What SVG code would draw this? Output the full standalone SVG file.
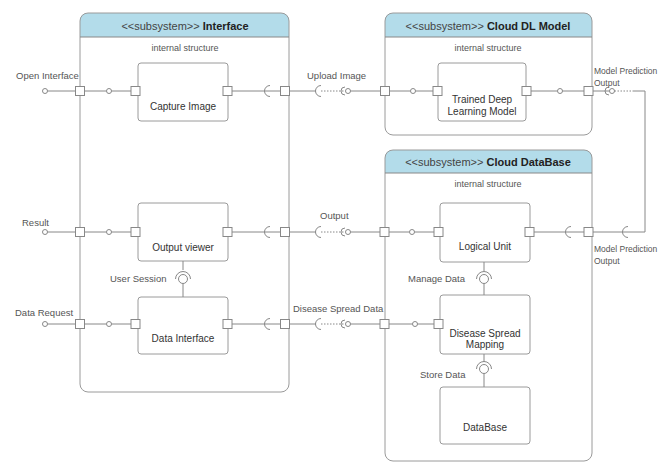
<svg xmlns="http://www.w3.org/2000/svg" width="662" height="464" viewBox="0 0 662 464">
<style>
text{font-family:"Liberation Sans",Arial,sans-serif;fill:#555;font-size:9.5px}
.title{font-size:11px;fill:#444;text-anchor:middle}
.title tspan.b{font-weight:bold;fill:#222}
.sub{text-anchor:middle;font-size:9px}
.ctr{text-anchor:middle;font-size:10px;fill:#333}
.sm{font-size:8.5px}
.frame{fill:none;stroke:#9a9a9a;stroke-width:1}
.hdr{fill:#b3dcea}
.box{fill:#fff;stroke:#9a9a9a;stroke-width:1}
.port{fill:#fff;stroke:#888;stroke-width:1}
.ln{fill:none;stroke:#888;stroke-width:1}
.dot{fill:none;stroke:#888;stroke-width:1;stroke-dasharray:1.5 1.5}
.ball{fill:#fff;stroke:#888;stroke-width:1}
</style>
<rect width="662" height="464" fill="#fff"/>

<g id="interface">
<path class="hdr" d="M80,37 V21 Q80,13 88,13 H281 Q289,13 289,21 V37 Z"/>
<rect class="frame" x="80" y="13" width="209" height="379" rx="8"/>
<line class="ln" x1="80" y1="37" x2="289" y2="37"/>
<text class="title" x="185" y="30">&lt;&lt;subsystem&gt;&gt; <tspan class="b">Interface</tspan></text>
<text class="sub" x="185" y="51">internal structure</text>
</g>

<g id="cloud-dl-model">
<path class="hdr" d="M385,37 V21 Q385,13 393,13 H584 Q592,13 592,21 V37 Z"/>
<rect class="frame" x="385" y="13" width="207" height="122" rx="8"/>
<line class="ln" x1="385" y1="37" x2="592" y2="37"/>
<text class="title" x="488" y="30">&lt;&lt;subsystem&gt;&gt; <tspan class="b">Cloud DL Model</tspan></text>
<text class="sub" x="488" y="51">internal structure</text>
</g>

<g id="cloud-database">
<path class="hdr" d="M385,173 V158 Q385,150 393,150 H584 Q592,150 592,158 V173 Z"/>
<rect class="frame" x="385" y="150" width="207" height="311" rx="8"/>
<line class="ln" x1="385" y1="173" x2="592" y2="173"/>
<text class="title" x="488" y="166">&lt;&lt;subsystem&gt;&gt; <tspan class="b">Cloud DataBase</tspan></text>
<text class="sub" x="488" y="187">internal structure</text>
</g>

<g id="capture-image">
<rect class="box" x="138" y="63" width="90" height="58" rx="3"/>
<text class="ctr" x="183" y="110">Capture Image</text>
</g>
<g id="output-viewer">
<rect class="box" x="138" y="203" width="90" height="58" rx="3"/>
<text class="ctr" x="183" y="251">Output viewer</text>
</g>
<g id="data-interface">
<rect class="box" x="138" y="297" width="90" height="57" rx="3"/>
<text class="ctr" x="183" y="342">Data Interface</text>
</g>
<g id="trained-model">
<rect class="box" x="438" y="63" width="88" height="58" rx="3"/>
<text class="ctr" x="482" y="103">Trained Deep</text>
<text class="ctr" x="482" y="115">Learning Model</text>
</g>
<g id="logical-unit">
<rect class="box" x="440" y="203" width="90" height="59" rx="3"/>
<text class="ctr" x="485" y="250">Logical Unit</text>
</g>
<g id="disease-spread-mapping">
<rect class="box" x="440" y="295" width="90" height="59" rx="3"/>
<text class="ctr" x="485" y="337">Disease Spread</text>
<text class="ctr" x="485" y="348">Mapping</text>
</g>
<g id="database">
<rect class="box" x="440" y="387" width="90" height="57" rx="3"/>
<text class="ctr" x="485" y="431">DataBase</text>
</g>

<g id="connectors">
<circle class="ball" cx="45" cy="91" r="2.5"/>
<line class="ln" x1="47.5" y1="91" x2="76" y2="91"/>
<line class="ln" x1="85" y1="91" x2="106.5" y2="91"/>
<circle class="ball" cx="109" cy="91" r="2.5"/>
<line class="ln" x1="111.5" y1="91" x2="131" y2="91"/>
<line class="ln" x1="232" y1="91" x2="281" y2="91"/>
<path class="ln" d="M270,85.5 A5.5,5.5 0 0 0 270,96.5"/>
<line class="ln" x1="290" y1="91" x2="316" y2="91"/>
<path class="ln" d="M321,85.5 A5.5,5.5 0 0 0 321,96.5"/>
<line class="dot" x1="321" y1="91" x2="344" y2="91"/>
<circle class="ball" cx="348" cy="91" r="2.5"/>
<path class="ln" d="M345,87 A4,4 0 0 0 345,95"/>
<line class="ln" x1="350.5" y1="91" x2="381" y2="91"/>
<line class="ln" x1="390" y1="91" x2="410.5" y2="91"/>
<circle class="ball" cx="413" cy="91" r="2.5"/>
<line class="ln" x1="415.5" y1="91" x2="433" y2="91"/>
<line class="ln" x1="531" y1="91" x2="557.5" y2="91"/>
<circle class="ball" cx="560" cy="91" r="2.5"/>
<line class="ln" x1="562.5" y1="91" x2="584" y2="91"/>
<line class="ln" x1="593" y1="91" x2="609.5" y2="91"/>
<circle class="ball" cx="612" cy="91" r="2.5"/>
<path class="ln" d="M609,87 A4,4 0 0 0 609,95"/>
<line class="dot" x1="614.5" y1="91" x2="633" y2="91"/>
<polyline class="ln" points="633,91 645,91 645,232 628,232"/>
<path class="ln" d="M628,226.5 A5.5,5.5 0 0 0 628,237.5"/>
<line class="ln" x1="628" y1="232" x2="593" y2="232"/>
<line class="ln" x1="584" y1="232" x2="534" y2="232"/>
<path class="ln" d="M571,226.5 A5.5,5.5 0 0 0 571,237.5"/>

<circle class="ball" cx="45" cy="232" r="2.5"/>
<line class="ln" x1="47.5" y1="232" x2="76" y2="232"/>
<line class="ln" x1="85" y1="232" x2="106.5" y2="232"/>
<circle class="ball" cx="109" cy="232" r="2.5"/>
<line class="ln" x1="111.5" y1="232" x2="131" y2="232"/>
<line class="ln" x1="232" y1="232" x2="281" y2="232"/>
<path class="ln" d="M270,226.5 A5.5,5.5 0 0 0 270,237.5"/>
<line class="ln" x1="290" y1="232" x2="316" y2="232"/>
<path class="ln" d="M321,226.5 A5.5,5.5 0 0 0 321,237.5"/>
<line class="dot" x1="321" y1="232" x2="344" y2="232"/>
<circle class="ball" cx="348" cy="232" r="2.5"/>
<path class="ln" d="M345,228 A4,4 0 0 0 345,236"/>
<line class="ln" x1="350.5" y1="232" x2="380" y2="232"/>
<line class="ln" x1="389" y1="232" x2="409.5" y2="232"/>
<circle class="ball" cx="412" cy="232" r="2.5"/>
<line class="ln" x1="414.5" y1="232" x2="434" y2="232"/>

<circle class="ball" cx="45" cy="324" r="2.5"/>
<line class="ln" x1="47.5" y1="324" x2="76" y2="324"/>
<line class="ln" x1="85" y1="324" x2="106.5" y2="324"/>
<circle class="ball" cx="109" cy="324" r="2.5"/>
<line class="ln" x1="111.5" y1="324" x2="131" y2="324"/>
<line class="ln" x1="232" y1="324" x2="281" y2="324"/>
<path class="ln" d="M270,318.5 A5.5,5.5 0 0 0 270,329.5"/>
<line class="ln" x1="290" y1="324" x2="316" y2="324"/>
<path class="ln" d="M321,318.5 A5.5,5.5 0 0 0 321,329.5"/>
<line class="dot" x1="321" y1="324" x2="344" y2="324"/>
<circle class="ball" cx="348" cy="324" r="2.5"/>
<path class="ln" d="M345,320 A4,4 0 0 0 345,328"/>
<line class="ln" x1="350.5" y1="324" x2="380" y2="324"/>
<line class="ln" x1="389" y1="324" x2="412.5" y2="324"/>
<circle class="ball" cx="415" cy="324" r="2.5"/>
<line class="ln" x1="417.5" y1="324" x2="434" y2="324"/>

<line class="ln" x1="183" y1="261" x2="183" y2="270"/>
<path class="ln" d="M175.5,279 A7.5,7.5 0 0 1 190.5,279"/>
<circle class="ball" cx="183" cy="279" r="4.5"/>
<line class="ln" x1="183" y1="283.5" x2="183" y2="297"/>

<line class="ln" x1="484" y1="262" x2="484" y2="271"/>
<path class="ln" d="M476.5,279 A7.5,7.5 0 0 1 491.5,279"/>
<circle class="ball" cx="484" cy="279" r="4.5"/>
<line class="ln" x1="484" y1="283.5" x2="484" y2="295"/>

<line class="ln" x1="484" y1="354" x2="484" y2="362"/>
<path class="ln" d="M476.5,369 A7.5,7.5 0 0 1 491.5,369"/>
<circle class="ball" cx="484" cy="369" r="4.5"/>
<line class="ln" x1="484" y1="373.5" x2="484" y2="387"/>

<rect class="port" x="75.5" y="86.5" width="9" height="9"/>
<rect class="port" x="131" y="86.5" width="9" height="9"/>
<rect class="port" x="223" y="86.5" width="9" height="9"/>
<rect class="port" x="280.5" y="86.5" width="9" height="9"/>
<rect class="port" x="380.5" y="86.5" width="9" height="9"/>
<rect class="port" x="433" y="86.5" width="9" height="9"/>
<rect class="port" x="522" y="86.5" width="9" height="9"/>
<rect class="port" x="584" y="86.5" width="9" height="9"/>

<rect class="port" x="75.5" y="227.5" width="9" height="9"/>
<rect class="port" x="131" y="227.5" width="9" height="9"/>
<rect class="port" x="223" y="227.5" width="9" height="9"/>
<rect class="port" x="280.5" y="227.5" width="9" height="9"/>
<rect class="port" x="380" y="227.5" width="9" height="9"/>
<rect class="port" x="434" y="227.5" width="9" height="9"/>
<rect class="port" x="525" y="227.5" width="9" height="9"/>
<rect class="port" x="584" y="227.5" width="9" height="9"/>

<rect class="port" x="75.5" y="319.5" width="9" height="9"/>
<rect class="port" x="131" y="319.5" width="9" height="9"/>
<rect class="port" x="223" y="319.5" width="9" height="9"/>
<rect class="port" x="280.5" y="319.5" width="9" height="9"/>
<rect class="port" x="380" y="319.5" width="9" height="9"/>
<rect class="port" x="434" y="319.5" width="9" height="9"/>

<text x="16" y="79">Open Interface</text>
<text x="307" y="79">Upload Image</text>
<text class="sm" x="594" y="74">Model Prediction</text>
<text class="sm" x="594" y="86">Output</text>
<text x="22" y="226">Result</text>
<text x="320" y="219">Output</text>
<text class="sm" x="594" y="252">Model Prediction</text>
<text class="sm" x="594" y="264">Output</text>
<text x="110" y="282">User Session</text>
<text x="408" y="282">Manage Data</text>
<text x="15" y="316">Data Request</text>
<text x="293" y="312">Disease Spread Data</text>
<text x="420" y="378">Store Data</text>
</g>
</svg>
